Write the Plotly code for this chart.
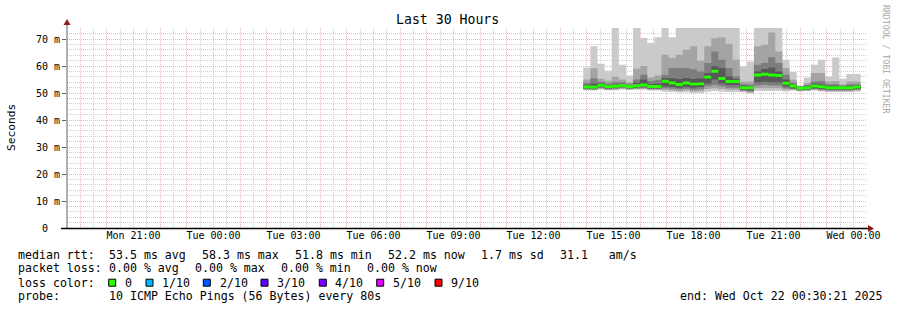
import plotly.graph_objects as go
import pandas as pd

# ---------------- data ----------------
step_start = "2025-10-21 13:52:00"
step_freq = "16min"
x_start = "2025-10-20 18:30:21"
x_end = "2025-10-22 00:30:21"

median = [52.2,52.2,52.9,52.3,52.5,52.8,52.3,52.7,53.0,52.4,52.4,54.4,53.7,53.2,53.7,53.3,53.4,55.9,58.1,55.4,
          54.3,54.3,52.0,52.0,56.7,57.0,56.7,56.5,53.6,52.6,51.8,52.0,52.6,52.3,52.0,52.0,52.0,52.0,52.2]
p10 = [59.5,67.3,60.9,58.3,74.5,60.5,56.5,74.5,70.4,68.5,70.7,74.5,70.7,74.5,74.5,74.5,74.5,74.5,74.5,74.5,
       74.5,74.5,59.9,61.7,74.5,74.5,74.5,74.5,62.3,57.8,52.8,55.8,60.5,62.3,56.1,63.2,55.3,57.1,57.1]
p9 = [55.0,59.2,55.3,54.6,56.0,55.0,54.0,59.0,60.0,55.8,56.5,64.2,63.0,64.2,66.0,67.3,62.0,67.3,70.3,70.7,
      68.3,62.3,54.3,54.3,67.3,67.9,72.4,65.4,59.3,54.9,52.5,53.7,57.4,57.4,54.3,54.5,53.2,54.3,54.3]
p8 = [53.8,55.5,54.2,53.5,54.0,54.0,53.3,55.0,56.8,54.5,54.8,56.8,59.3,59.3,59.3,58.8,58.0,61.1,65.4,62.3,
      59.3,56.1,53.3,53.2,60.5,61.1,63.3,61.1,56.8,53.8,52.4,53.0,54.3,54.5,53.2,53.3,52.8,53.2,53.3]
p7 = [53.0,53.5,53.6,52.9,53.2,53.4,52.8,53.8,55.0,53.3,53.5,55.6,55.5,55.2,55.6,55.2,55.5,57.4,59.9,59.3,
      56.1,55.2,52.8,52.6,58.0,58.9,59.5,58.0,55.0,53.3,52.3,52.6,53.4,53.2,52.7,52.7,52.5,52.7,52.8]
p6 = [52.6,52.7,53.2,52.6,52.8,53.1,52.6,53.0,53.4,52.7,52.7,54.8,54.1,53.6,54.1,53.7,53.8,56.3,58.5,55.8,
      54.7,54.7,52.4,52.3,57.1,57.4,57.1,56.9,54.0,53.0,52.2,52.4,53.0,52.7,52.4,52.4,52.3,52.4,52.6]
p5 = [51.9,51.9,52.6,52.0,52.2,52.5,52.0,52.4,52.6,52.1,52.1,54.0,53.3,52.8,53.3,52.9,53.0,55.5,57.7,55.0,
      53.9,53.9,51.6,51.6,56.3,56.6,56.3,56.1,53.2,52.2,51.4,51.6,52.2,51.9,51.6,51.6,51.6,51.6,51.8]
p4 = [51.6,51.6,52.2,51.7,51.9,52.2,51.8,52.1,52.2,51.8,51.8,52.5,52.3,52.0,52.3,52.0,52.2,53.5,55.0,53.5,
      53.0,53.0,51.2,51.0,54.0,54.2,54.0,54.0,52.5,51.8,51.2,51.3,51.8,51.5,51.3,51.3,51.3,51.3,51.5]
p3 = [51.4,51.4,51.9,51.4,51.6,51.9,51.5,51.8,51.9,51.5,51.5,51.8,51.6,51.4,51.6,51.2,51.4,52.5,53.0,52.5,
      52.0,52.0,50.9,50.6,52.8,53.0,52.8,52.8,51.8,51.5,51.0,51.1,51.5,51.2,51.0,51.0,51.0,51.0,51.2]
p2 = [51.2,51.1,51.6,51.2,51.3,51.6,51.3,51.5,51.5,51.2,51.2,51.2,51.0,50.8,51.0,50.6,50.8,51.5,51.8,51.5,
      51.2,51.2,50.6,50.2,51.8,51.8,51.8,51.8,51.2,51.2,50.8,50.9,51.2,50.9,50.7,50.7,50.7,50.7,50.9]
p1 = [51.0,50.9,51.3,51.0,51.0,51.3,51.1,51.2,51.2,50.9,50.9,50.5,50.4,50.2,50.3,50.0,50.0,50.5,50.8,50.5,
      50.4,50.4,50.3,49.8,50.8,50.8,50.8,50.8,50.6,50.9,50.6,50.7,50.9,50.6,50.4,50.4,50.4,50.4,50.6]

y_tick_vals = [0, 10, 20, 30, 40, 50, 60, 70]
y_tick_text = ["0\u00a0\u00a0", "10 m", "20 m", "30 m", "40 m", "50 m", "60 m", "70 m"]
y_minor_vals = [v for v in range(2, 75, 2) if v % 10 != 0]

loss_labels = ["0", "1/10", "2/10", "3/10", "4/10", "5/10", "9/10"]
loss_colors = ["#26ff00", "#00b8ff", "#0059ff", "#5e00ff", "#7e00ff", "#dd00ff", "#ff0000"]

# ---------------- geometry ----------------
W, H = 897, 310
ML, MR, MT, MB = 67, 30, 28, 82
PW, PH = W - ML - MR, H - MT - MB
Y_MAX = 74.1
MONO = "DejaVu Sans Mono"


def px(xp):
    return (xp - ML) / PW


def py(yp):
    return (H - MB - yp) / PH


times = pd.date_range(step_start, periods=len(median) + 1, freq=step_freq)


def ext(a):
    return list(a) + [a[-1]]


fig = go.Figure()

bands = [(p1, p10, "#cacaca"), (p2, p9, "#a4a4a4"), (p3, p8, "#7e7e7e"),
         (p4, p7, "#585858"), (p5, p6, "#323232")]
for lo, hi, col in bands:
    fig.add_trace(go.Scatter(x=times, y=ext(lo), mode="lines", line=dict(width=0, shape="hv"),
                             hoverinfo="skip", showlegend=False))
    fig.add_trace(go.Scatter(x=times, y=ext(hi), mode="lines", line=dict(width=0, shape="hv"),
                             fill="tonexty", fillcolor=col, hoverinfo="skip", showlegend=False))

bar_half = 0.55
fig.add_trace(go.Scatter(x=times, y=ext([m - bar_half for m in median]), mode="lines",
                         line=dict(width=0, shape="hv"), hoverinfo="skip", showlegend=False))
fig.add_trace(go.Scatter(x=times, y=ext([m + bar_half for m in median]), mode="lines",
                         line=dict(width=0, shape="hv"), fill="tonexty", fillcolor=loss_colors[0],
                         hoverinfo="skip", showlegend=False))

# dummy trace for label axis
fig.add_trace(go.Scatter(x=[x_start, x_end], y=[0, 0], xaxis="x2", mode="markers",
                         marker=dict(opacity=0), hoverinfo="skip", showlegend=False))

GRAY = "#cfcfcf"
RED = "#f3b4b4"
DASH = "1px,1px"

shapes = []
# axis lines and arrows
shapes.append(dict(type="line", xref="paper", yref="paper", x0=px(67), x1=px(67), y0=py(228.5), y1=py(23),
                   line=dict(color="#606060", width=1), layer="above"))
shapes.append(dict(type="line", xref="paper", yref="paper", x0=px(61), x1=px(869), y0=py(228.5), y1=py(228.5),
                   line=dict(color="#000000", width=1.5), layer="above"))
ARROW = "#8b1a1a"
shapes.append(dict(type="path", xref="paper", yref="paper",
                   path=f"M {px(67)} {py(19)} L {px(63.5)} {py(25)} L {px(70.5)} {py(25)} Z",
                   fillcolor=ARROW, line=dict(width=0), layer="above"))
shapes.append(dict(type="path", xref="paper", yref="paper",
                   path=f"M {px(874)} {py(228.5)} L {px(868)} {py(225)} L {px(868)} {py(232)} Z",
                   fillcolor=ARROW, line=dict(width=0), layer="above"))

annotations = []


def ann(text, xp, yp, size=11.6, anchor="left", color="#000000", angle=0):
    annotations.append(dict(text=text.replace(" ", "\u00a0"), x=px(xp), y=py(yp), xref="paper", yref="paper",
                            xanchor=anchor, yanchor="middle", showarrow=False, textangle=angle,
                            font=dict(family=MONO, size=size, color=color)))


ann("Last 30 Hours", 447.5, 19.5, size=13.2, anchor="center")
ann("Seconds", 11, 127, size=11.2, anchor="center", angle=-90)
ann("RRDTOOL / TOBI OETIKER", 886, 59, size=8.2, anchor="center", color="#a8a8a8", angle=90)

L1, L2, L3, L4 = 254.7, 268.3, 282.7, 296.0
ann("median rtt:", 16, L1)
ann("53.5 ms avg", 106.5, L1)
ann("58.3 ms max", 200, L1)
ann("51.8 ms min", 292.5, L1)
ann("52.2 ms now", 386, L1)
ann("1.7 ms sd", 478.5, L1)
ann("31.1   am/s", 557.5, L1)

ann("packet loss:", 16, L2)
ann("0.00 % avg", 106.5, L2)
ann("0.00 % max", 193.3, L2)
ann("0.00 % min", 278.6, L2)
ann("0.00 % now", 365.3, L2)

ann("loss color:", 16, L3)
box_x = [108.7, 146.0, 203.3, 261.0, 319.3, 376.7, 435.0]
lab_x = [123.3, 160.0, 217.6, 275.3, 332.6, 391.0, 449.3]
for bx, lx, lab, col in zip(box_x, lab_x, loss_labels, loss_colors):
    shapes.append(dict(type="rect", xref="paper", yref="paper", x0=px(bx), x1=px(bx + 7),
                       y0=py(L3 + 3.5), y1=py(L3 - 3.5), fillcolor=col,
                       line=dict(color="#000000", width=1), layer="above"))
    ann(lab, lx, L3)

ann("probe:", 16, L4)
ann("10 ICMP Echo Pings (56 Bytes) every 80s", 106.5, L4)
ann("end: Wed Oct 22 00:30:21 2025", 677.5, L4)

fig.update_layout(
    width=W, height=H,
    margin=dict(l=ML, r=MR, t=MT, b=MB, pad=0),
    paper_bgcolor="#ffffff", plot_bgcolor="#ffffff",
    showlegend=False,
    xaxis=dict(range=[x_start, x_end], type="date", zeroline=False,
               tick0="2025-10-20 19:00", dtick=3600000,
               showgrid=True, gridcolor=RED, gridwidth=1, griddash=DASH,
               minor=dict(tick0="2025-10-20 18:30", dtick=1800000, showgrid=True,
                          gridcolor=GRAY, gridwidth=1, griddash=DASH),
               showticklabels=False, ticks="", showline=False, fixedrange=True),
    xaxis2=dict(range=[x_start, x_end], type="date", overlaying="x", side="bottom", anchor="y",
                tick0="2025-10-20 21:00", dtick=3 * 3600000, tickformat="%a %H:%M",
                showgrid=False, zeroline=False, ticks="", showline=False,
                tickfont=dict(family=MONO, size=10, color="#000000")),
    yaxis=dict(range=[-0.001, Y_MAX], tickvals=y_tick_vals, ticktext=y_tick_text,
               showgrid=True, gridcolor=RED, gridwidth=1, griddash=DASH,
               minor=dict(tickmode="array", tickvals=y_minor_vals, showgrid=True,
                          gridcolor=GRAY, gridwidth=1, griddash=DASH),
               zeroline=False, showline=False, ticks="outside", ticklen=4, tickcolor="#606060",
               tickfont=dict(family=MONO, size=10, color="#000000")),
    shapes=shapes,
    annotations=annotations,
)

fig.write_html("out.html")
